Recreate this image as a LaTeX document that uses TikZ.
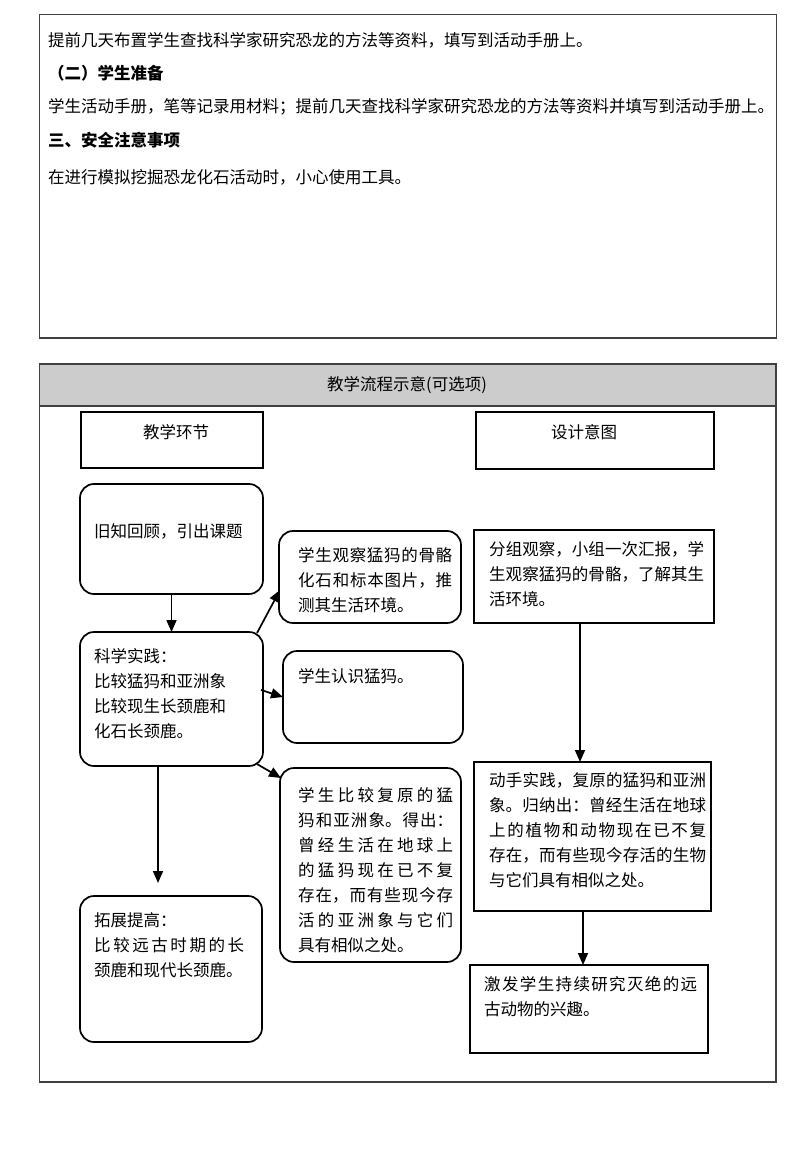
\documentclass[tikz,border=0pt]{standalone}
\usepackage{fontspec}
\setmainfont{Noto Sans CJK SC}
\XeTeXlinebreaklocale "zh"
\XeTeXlinebreakskip=0pt plus 8pt
\setlength\parindent{0pt}
\usetikzlibrary{arrows.meta,calc}
\definecolor{framegray}{RGB}{64,64,64}
\definecolor{headgray}{RGB}{204,204,204}
\begin{document}
\begin{tikzpicture}[x=1pt,y=-1pt,
  frame/.style={draw=framegray,line width=1.5pt},
  sqbox/.style={draw=black,line width=1.7pt,anchor=north west,inner sep=0pt,outer sep=0pt},
  rbox/.style={sqbox,rounded corners=14pt},
  line/.style={anchor=west,inner sep=0pt,font=\fontsize{16.5}{25}\selectfont},
  bline/.style={line,font=\fontsize{16.5}{25}\selectfont\bfseries},
  txt/.style={anchor=north west,inner sep=0pt,text width=#1,align=justify,font=\fontsize{16.5}{25}\selectfont},
  arr/.style={draw=black,line width=1.7pt,-{Triangle[length=12pt,width=10pt]}}
]
\useasboundingbox (0,0) rectangle (800,1155);

% ---------- top section ----------
\node[frame,anchor=north west,inner sep=0pt,minimum width=737pt,minimum height=323pt] (topframe) at (38.5,14) {};
\node[line] (t1) at (48,40) {提前几天布置学生查找科学家研究恐龙的方法等资料，填写到活动手册上。};
\node[bline] (t2) at (48,73) {（二）学生准备};
\node[line] (t3) at (48,107) {学生活动手册，笔等记录用材料；提前几天查找科学家研究恐龙的方法等资料并填写到活动手册上。};
\node[bline] (t4) at (48,140) {三、安全注意事项};
\node[line] (t5) at (48,177) {在进行模拟挖掘恐龙化石活动时，小心使用工具。};

% ---------- flow section ----------
\fill[headgray] (38.5,363) rectangle (775,406);
\node[frame,anchor=north west,inner sep=0pt,minimum width=736.5pt,minimum height=718pt] (flowframe) at (38.5,363) {};
\draw[framegray,line width=1.5pt] (38.5,406) -- (775,406);
\node[line,anchor=center] (head) at (407,385) {教学流程示意(可选项)};

\node[sqbox,minimum width=182pt,minimum height=56pt] (hj) at (81,412) {};
\node[line,anchor=center] at (176,432) {教学环节};
\node[sqbox,minimum width=238pt,minimum height=57pt] (sy) at (476,412) {};
\node[line,anchor=center] at (584,432) {设计意图};

% left column
\node[rbox,minimum width=183pt,minimum height=110pt] (jz) at (80,484) {};
\node[line] at (94,531) {旧知回顾，引出课题};

\node[rbox,minimum width=183pt,minimum height=134pt] (sj) at (80,632) {};
\node[txt=160pt] at (94,648) {科学实践：\newline 比较猛犸和亚洲象\newline 比较现生长颈鹿和\newline 化石长颈鹿。};

\node[rbox,minimum width=182pt,minimum height=146pt] (tz) at (80,896) {};
\node[txt=150pt] at (94,912) {拓展提高：\newline 比较远古时期的长\linebreak 颈鹿和现代长颈鹿。};

% middle column
\node[rbox,minimum width=182pt,minimum height=92pt] (gc) at (279,531) {};
\node[txt=154pt] at (298,547) {学生观察猛犸的骨骼\linebreak 化石和标本图片，推\linebreak 测其生活环境。};

\node[rbox,minimum width=180pt,minimum height=92pt] (rs) at (283,651) {};
\node[line] at (298,676) {学生认识猛犸。};

\node[rbox,minimum width=181pt,minimum height=194pt] (bj) at (280,768) {};
\node[txt=155pt] at (298,787) {学生比较复原的猛\linebreak 犸和亚洲象。得出：\linebreak 曾经生活在地球上\linebreak 的猛犸现在已不复\linebreak 存在，而有些现今存\linebreak 活的亚洲象与它们\linebreak 具有相似之处。};

% right column
\node[sqbox,minimum width=240pt,minimum height=93pt] (fz) at (474,530) {};
\node[txt=215pt] at (489,541) {分组观察，小组一次汇报，学\linebreak 生观察猛犸的骨骼，了解其生\linebreak 活环境。};

\node[sqbox,minimum width=237pt,minimum height=149pt] (dz) at (474,762) {};
\node[txt=217pt] at (489,772) {动手实践，复原的猛犸和亚洲\linebreak 象。归纳出：曾经生活在地球\linebreak 上的植物和动物现在已不复\linebreak 存在，而有些现今存活的生物\linebreak 与它们具有相似之处。};

\node[sqbox,minimum width=238pt,minimum height=88pt] (jf) at (470,965) {};
\node[txt=213pt] at (484,976) {激发学生持续研究灭绝的远\linebreak 古动物的兴趣。};

% ---------- connectors ----------
\draw[arr] (jz.south) -- (sj.north);
\draw[arr] ($(sj.north east)+(-6,1)$) -- ($(gc.west)+(1,13)$);
\draw[arr] ($(sj.east)+(-2,-9)$) -- (rs.west);
\draw[arr] ($(sj.south east)+(-6,-2)$) -- ($(bj.north west)+(1,10)$);
\coordinate (tzin) at ($(tz.north)+(-13,-13)$);
\draw[arr] (sj.south -| tzin) -- (tzin);
\coordinate (dzin) at ($(dz.north)+(-12.5,0)$);
\draw[arr] (fz.south -| dzin) -- (dzin);
\coordinate (jfin) at ($(jf.north)+(-6,0)$);
\draw[arr] (dz.south -| jfin) -- (jfin);
\end{tikzpicture}
\end{document}
